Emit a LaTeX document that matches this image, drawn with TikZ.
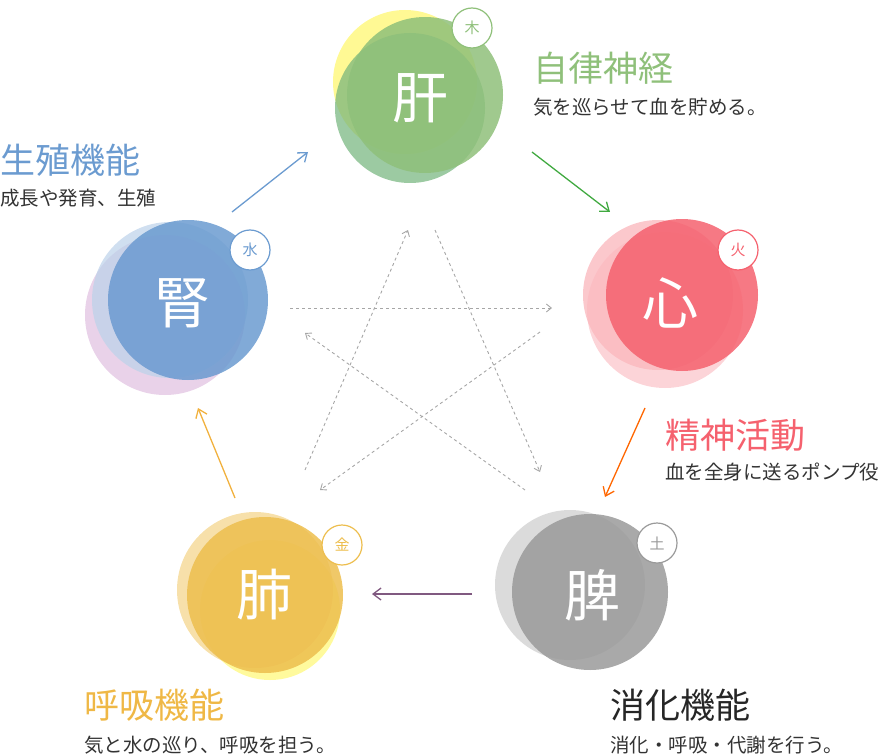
\documentclass[tikz,border=0pt]{standalone}
\usepackage{fontspec}
\setmainfont{Noto Sans CJK JP}
\usetikzlibrary{arrows.meta}
\definecolor{cgreen}{HTML}{8FC07A}
\definecolor{cred}{HTML}{F5616E}
\definecolor{cblue}{HTML}{6B9BD0}
\definecolor{cyel}{HTML}{EDBE4E}
\definecolor{cgray}{HTML}{9A9A9A}
\tikzset{
 big/.style={font=\fontsize{56}{56}\selectfont,text=white},
 badge/.style={circle,draw=#1,fill=white,line width=1.2pt,minimum size=40pt,inner sep=0pt,text=#1,font=\fontsize{15}{15}\selectfont},
 ttl/.style={font=\fontsize{35}{35}\selectfont,anchor=west,inner sep=0pt},
 sub/.style={font=\fontsize{19.5}{20}\selectfont,anchor=west,text=black!80,inner sep=0pt},
 arr/.style={-{Straight Barb[length=8pt,width=12pt]},line width=1.3pt},
 dsh/.style={-{Straight Barb[length=5pt,width=8pt]},gray!70,dashed,line width=0.9pt}
}
\begin{document}
\begin{tikzpicture}[x=1pt,y=-1pt]
\useasboundingbox (0,0) rectangle (883,754);
% Liver
\fill[yellow!60,opacity=.7] (405,82) circle (72);
\fill[cgreen!80!teal,opacity=.7] (410,108) circle (75);
\fill[cgreen,opacity=.85] (425,95) circle (78);
\node[big] (kan) at (420,98) {肝};
\node[badge=cgreen] (moku) at (472,28) {木};
% Heart
\fill[cred!50,opacity=.7] (658,295) circle (75);
\fill[cred!45,opacity=.6] (665,310) circle (78);
\fill[cred,opacity=.85] (682,295) circle (76);
\node[big] (shin) at (670,303) {心};
\node[badge=cred] (ka) at (738,250) {火};
% Kidney
\fill[violet!25,opacity=.7] (165,315) circle (80);
\fill[cblue!45,opacity=.7] (170,300) circle (78);
\fill[cblue,opacity=.85] (188,300) circle (80);
\node[big] (jin) at (182,303) {腎};
\node[badge=cblue] (sui) at (250,250) {水};
% Lung
\fill[yellow!55,opacity=.7] (270,610) circle (70);
\fill[cyel!80,opacity=.6] (255,590) circle (78);
\fill[cyel,opacity=.85] (265,595) circle (78);
\node[big] (hai) at (264,595) {肺};
\node[badge=cyel] (kin) at (342,545) {金};
% Spleen
\fill[gray!35,opacity=.8] (570,585) circle (75);
\fill[cgray,opacity=.85] (590,592) circle (78);
\node[big] (hi) at (592,595) {脾};
\node[badge=cgray] (do) at (657,543) {土};
% Labels
\node[ttl,text=cgreen] (l1) at (533,68) {自律神経};
\node[sub] (s1) at (533,107) {気を巡らせて血を貯める。};
\node[ttl,text=cblue] (l2) at (0,160) {生殖機能};
\node[sub] (s2) at (0,198) {成長や発育、生殖};
\node[ttl,text=cred] (l3) at (665,435) {精神活動};
\node[sub] (s3) at (665,472) {血を全身に送るポンプ役};
\node[ttl,text=cyel!90!orange] (l4) at (84,705) {呼吸機能};
\node[sub] (s4) at (84,745) {気と水の巡り、呼吸を担う。};
\node[ttl,text=black!85] (l5) at (610,705) {消化機能};
\node[sub] (s5) at (610,745) {消化・呼吸・代謝を行う。};
% Arrows
\coordinate (a1s) at (232,212); \coordinate (a1e) at (308,152);
\coordinate (a2s) at (532,152); \coordinate (a2e) at (610,212);
\coordinate (a3s) at (645,408); \coordinate (a3e) at (605,497);
\coordinate (a4s) at (472,594); \coordinate (a4e) at (372,594);
\coordinate (a5s) at (235,498); \coordinate (a5e) at (198,408);
\draw[arr,cblue] (a1s) -- (a1e);
\draw[arr,green!55!black!75] (a2s) -- (a2e);
\draw[arr,orange!80!red] (a3s) -- (a3e);
\draw[arr,violet!30!gray] (a4s) -- (a4e);
\draw[arr,cyel!80!orange] (a5s) -- (a5e);
% Dashed star
\coordinate (d1s) at (290,308); \coordinate (d1e) at (552,308);
\coordinate (d2s) at (435,230); \coordinate (d2e) at (540,472);
\coordinate (d3s) at (540,332); \coordinate (d3e) at (320,490);
\coordinate (d4s) at (525,490); \coordinate (d4e) at (305,333);
\coordinate (d5s) at (305,470); \coordinate (d5e) at (408,230);
\draw[dsh] (d1s) -- (d1e);
\draw[dsh] (d2s) -- (d2e);
\draw[dsh] (d3s) -- (d3e);
\draw[dsh] (d4s) -- (d4e);
\draw[dsh] (d5s) -- (d5e);
\end{tikzpicture}
\end{document}
